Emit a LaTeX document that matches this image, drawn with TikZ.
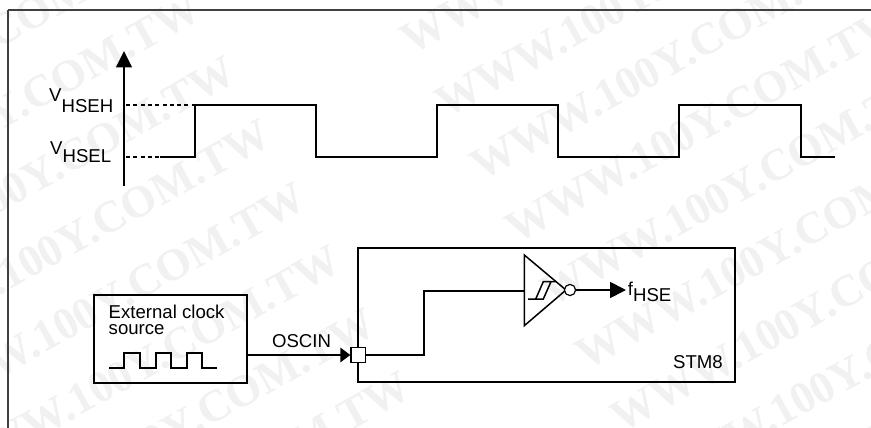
\documentclass[tikz,border=0pt]{standalone}
\usepackage{fontspec}
\setmainfont{Liberation Sans}
\newfontfamily\wmfont{Liberation Serif}
\usetikzlibrary{arrows.meta}
\tikzset{
  frame/.style={draw=black!75,line width=1.2pt},
  wave/.style={draw=black,line width=2pt,line join=miter},
  thin wire/.style={draw=black,line width=1.8pt},
  box/.style={draw=black,line width=2pt},
  lab/.style={font=\fontsize{18.6pt}{19pt}\selectfont,inner sep=0pt},
  wmark/.style={font=\wmfont\bfseries\fontsize{45pt}{45pt}\selectfont,inner sep=0pt,text=black!5.5,rotate=29},
  dots/.style={draw=black,line width=2.2pt,dash pattern=on 4pt off 3.3pt}
}
\begin{document}
\begin{tikzpicture}[x=1pt,y=-1pt]
\useasboundingbox (0,0) rectangle (871,428);
\fill[white] (0,0) rectangle (871,428);
% watermark
\begin{scope}
\clip (0,0) rectangle (871,428);
\foreach \k in {-2,...,6}
  \node[wmark] (wl\k) at ({37+35*\k},{176+63*\k}) {WWW.100Y.COM.TW};
\foreach \k in {-3,...,6}
  \node[wmark] (wr\k) at ({704+35*\k},{124+63*\k}) {WWW.100Y.COM.TW};
\end{scope}
\draw[frame] (8,10) -- (871,10) (8,10) -- (8,428);
% axis
\coordinate (axB) at (124,185.5);
\coordinate (axT) at (124,51);
\draw[line width=1.8pt,-{Triangle[length=16.5pt,width=16pt]}] (axB) -- (axT);
\node[lab,anchor=base west] (vh) at (49,101.7) {V\raisebox{-11pt}{HSEH}};
\node[lab,anchor=base west] (vl) at (50,154.3) {V\raisebox{-8.4pt}{HSEL}};
\coordinate (dh0) at (126,105);
\coordinate (dh1) at (195,105);
\coordinate (dl0) at (126,157);
\coordinate (dl1) at (160,157);
\draw[dots] (dh0) -- (dh1);
\draw[dots] (dl0) -- (dl1);
\draw[wave] (dl1) -| (195,105) -| (316,157) -| (437,105) -| (558,157) -| (679,105) -| (800.5,157) -- (835,157);
% source
\node[box,minimum width=153pt,minimum height=87.5pt,inner sep=0pt] (src) at (170.5,339) {};
\node[lab,anchor=base west] (srct) at (108.5,318.3) {External clock};
\node[lab,anchor=base west] (srcs) at (108.5,334.3) {source};
\draw[line width=1.8pt] (109,368) -| (124.3,353.3) -| (140,368) -| (155.7,353.3) -| (171,368) -| (186.7,353.3) -| (202.3,368) -- (217.3,368);
% stm8
\draw[box] (358,248) rectangle (734.5,382.3);
\node[lab,anchor=base east] (stm) at (723,368.3) {STM8};
\node[draw=black,line width=1.3pt,fill=white,minimum size=14.7pt,inner sep=0pt] (pin) at (358.3,355) {};
\draw[thin wire,-{Triangle[length=10pt,width=14.5pt]}] (src.east |- pin) -- (pin.west);
\node[lab,anchor=base] (osc) at (301.5,347.3) {OSCIN};
% inverter
\coordinate (ta) at (524.3,255);
\coordinate (tb) at (524.3,325.7);
\coordinate (tc) at (566,290);
\draw[line width=1.5pt] (ta) -- (tb) -- (tc) -- cycle;
\draw[line width=1.2pt,fill=white] (570,290) circle (5.6pt);
\coordinate (ti) at (524.3,291);
\draw[thin wire] (pin.east) -| (424,291) -- (ti);
\draw[line width=1.5pt] (528,299) -- (543.3,299) -- (551,281.7) -- (556,281.7) (535.7,299) -- (543.3,281.7) -- (551,281.7);
\coordinate (o0) at (575.6,290);
\coordinate (o1) at (626,290);
\draw[thin wire,-{Triangle[length=16pt,width=16pt]}] (o0) -- (o1);
\node[lab,anchor=base west] (f) at (627.7,295) {f\raisebox{-6pt}{HSE}};
\end{tikzpicture}
\end{document}
